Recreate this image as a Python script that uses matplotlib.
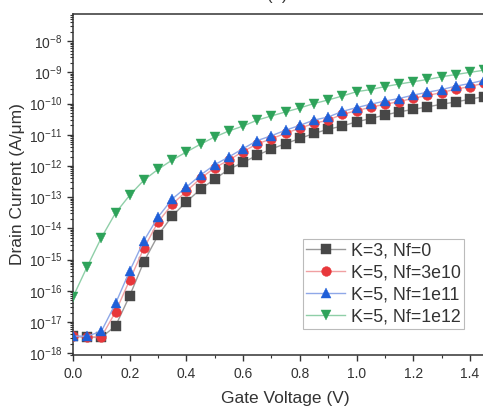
import matplotlib
matplotlib.use("Agg")
import matplotlib.pyplot as plt
from matplotlib.ticker import LogLocator, MultipleLocator, NullFormatter, LogFormatterMathtext, FormatStrFormatter

plt.rcParams['font.family'] = ['Liberation Sans', 'DejaVu Sans']
plt.rcParams['mathtext.fontset'] = 'custom'
plt.rcParams['mathtext.rm'] = 'Liberation Sans'
plt.rcParams['mathtext.it'] = 'Liberation Sans:italic'

gate_voltage = [0.00, 0.05, 0.10, 0.15, 0.20, 0.25, 0.30, 0.35, 0.40, 0.45,
                0.50, 0.55, 0.60, 0.65, 0.70, 0.75, 0.80, 0.85, 0.90, 0.95,
                1.00, 1.05, 1.10, 1.15, 1.20, 1.25, 1.30, 1.35, 1.40, 1.45]

k3_nf0 = [3.5e-18, 3.2e-18, 3.2e-18, 7.4e-18, 6.9e-17, 8.5e-16, 6.0e-15, 2.5e-14, 7.1e-14, 1.8e-13,
          3.8e-13, 7.8e-13, 1.3e-12, 2.2e-12, 3.5e-12, 5.2e-12, 7.6e-12, 1.1e-11, 1.5e-11, 1.9e-11,
          2.6e-11, 3.3e-11, 4.3e-11, 5.4e-11, 6.5e-11, 7.8e-11, 9.5e-11, 1.12e-10, 1.38e-10, 1.66e-10]

k5_nf3e10 = [3.5e-18, 3.3e-18, 3.3e-18, 2.1e-17, 2.2e-16, 2.3e-15, 1.6e-14, 5.9e-14, 1.55e-13, 4.0e-13,
             8.7e-13, 1.55e-12, 2.9e-12, 5.1e-12, 7.4e-12, 1.12e-11, 1.62e-11, 2.3e-11, 2.95e-11, 4.5e-11,
             5.9e-11, 7.6e-11, 9.5e-11, 1.15e-10, 1.48e-10, 1.82e-10, 2.24e-10, 2.9e-10, 3.5e-10, 4.5e-10]

k5_nf1e11 = [3.5e-18, 3.5e-18, 5.0e-18, 3.9e-17, 4.3e-16, 4.0e-15, 2.3e-14, 8.7e-14, 2.1e-13, 5.1e-13,
             1.1e-12, 1.95e-12, 3.6e-12, 6.5e-12, 9.3e-12, 1.4e-11, 2.0e-11, 2.95e-11, 3.7e-11, 5.6e-11,
             7.4e-11, 9.5e-11, 1.2e-10, 1.45e-10, 1.86e-10, 2.3e-10, 2.8e-10, 3.6e-10, 4.4e-10, 5.6e-10]

k5_nf1e12 = [6.3e-17, 5.9e-16, 5.0e-15, 3.1e-14, 1.15e-13, 3.5e-13, 7.8e-13, 1.55e-12, 2.8e-12, 5.0e-12,
             8.5e-12, 1.32e-11, 1.9e-11, 2.95e-11, 4.0e-11, 5.4e-11, 7.2e-11, 1.0e-10, 1.3e-10, 1.74e-10,
             2.4e-10, 2.8e-10, 3.5e-10, 4.2e-10, 5.0e-10, 5.9e-10, 7.2e-10, 8.5e-10, 1.0e-9, 1.17e-9]

series_labels = ["K=3, Nf=0", "K=5, Nf=3e10", "K=5, Nf=1e11", "K=5, Nf=1e12"]
series_data = [k3_nf0, k5_nf3e10, k5_nf1e11, k5_nf1e12]
colors = ["#474747", "#e8373b", "#1f5fd8", "#2ea35a"]
line_colors = ["#9a9a9a", "#f0a0a2", "#8fa8e8", "#8fcfa8"]
markers = ["s", "o", "^", "v"]
sizes = [6.8, 7.0, 7.6, 7.6]

fig = plt.figure(figsize=(4.83, 4.09), dpi=100)
ax = fig.add_axes([73/483, 54/409, 1.5*283.5/483, 341/409])

for y, lab, c, lc, m, s in zip(series_data, series_labels, colors, line_colors, markers, sizes):
    ax.plot(gate_voltage, y, color=lc, lw=1.0, marker=m, ms=s,
            mfc=c, mec=c, mew=0.3, label=lab, zorder=3)

ax.set_yscale('log')
ax.set_xlim(0, 1.5)
ax.set_ylim(10**-18.06, 10**-7.13)

ax.xaxis.set_major_locator(MultipleLocator(0.2))
ax.xaxis.set_minor_locator(MultipleLocator(0.1))
ax.xaxis.set_major_formatter(FormatStrFormatter('%.1f'))
ax.yaxis.set_major_locator(LogLocator(base=10, numticks=20))
ax.yaxis.set_minor_locator(LogLocator(base=10, subs=[2, 3, 4, 5, 6, 7, 8, 9], numticks=20))
ax.yaxis.set_minor_formatter(NullFormatter())
ax.yaxis.set_major_formatter(LogFormatterMathtext())

ax.tick_params(axis='both', which='major', direction='out', length=4, width=1,
               labelsize=10, color='#333333', labelcolor='#333333')
ax.tick_params(axis='both', which='minor', direction='out', length=2, width=0.8, color='#333333')
ax.tick_params(axis='x', which='major', pad=5)
ax.tick_params(axis='y', which='both', right=False)
ax.tick_params(axis='x', which='both', top=False)

for sp in ax.spines.values():
    sp.set_color('#333333')
    sp.set_linewidth(1.1)

ax.set_xlabel("Gate Voltage (V)", fontsize=12.5, color='#333333', labelpad=7)
ax.set_ylabel("Drain Current (A/\u03bcm)", fontsize=12.5, color='#333333', labelpad=3)

leg = fig.legend(loc='lower right', bbox_to_anchor=(464/483, 80/409),
                 fontsize=12.8, frameon=True, fancybox=False, borderaxespad=0,
                 handlelength=2.2, handletextpad=0.3, labelspacing=0.28,
                 borderpad=0.2, edgecolor='#aaaaaa')
leg.get_frame().set_linewidth(0.8)
for t in leg.get_texts():
    t.set_color('#333333')

fig.text(0.575, 409.5/409, "(b)", fontsize=12, ha='center', va='baseline', color='#333333')

fig.savefig("out.png", dpi=100)
